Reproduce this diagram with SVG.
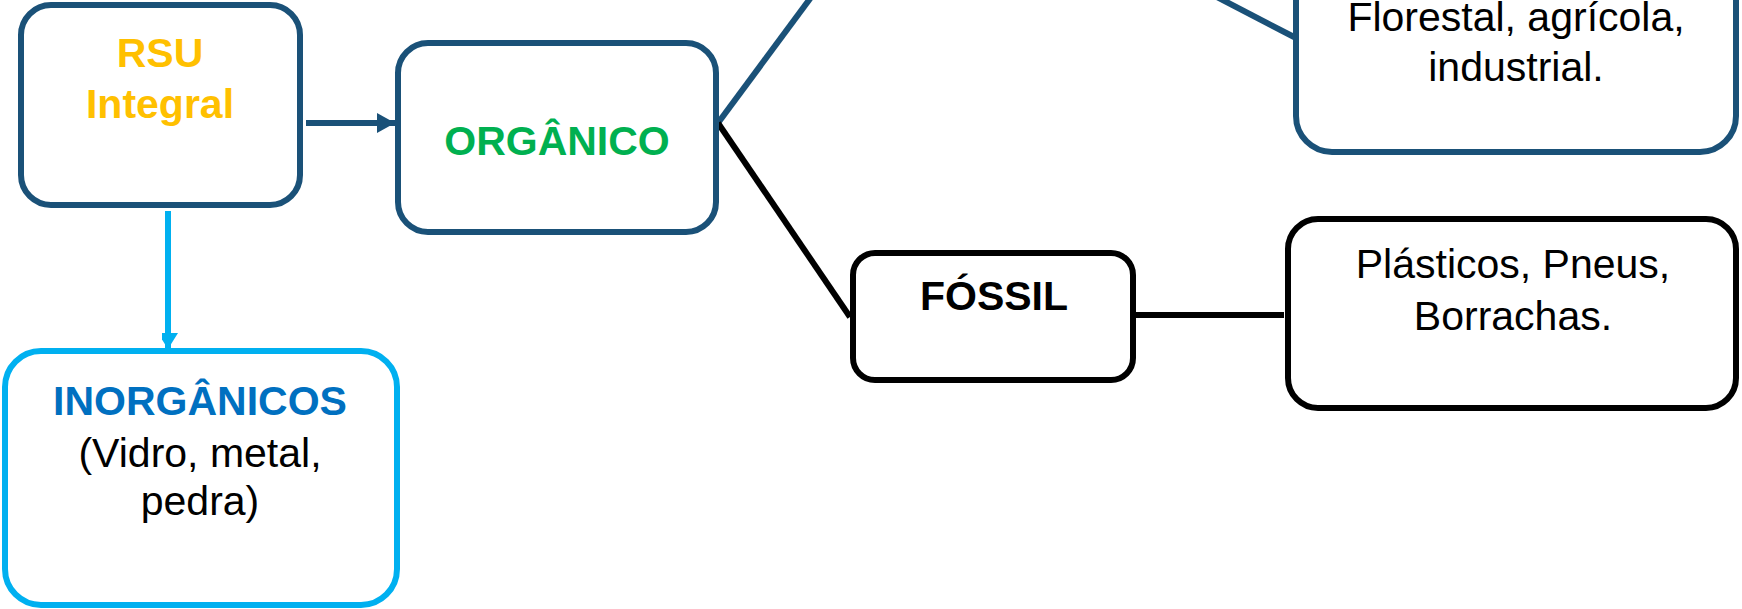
<svg xmlns="http://www.w3.org/2000/svg" width="1742" height="609" viewBox="0 0 1742 609">
  <style>
    .box { fill: #ffffff; stroke-width: 6; }
    .navy { stroke: #1A5178; }
    .sky { stroke: #00B0F0; }
    .ink { stroke: #000000; }
    .t { font-family: "Liberation Sans", Arial, sans-serif; font-size: 41px; text-anchor: middle; }
    .b { font-weight: bold; }
    .link { fill: none; stroke-width: 6; }
  </style>
  <defs>
    <marker id="headNavy" viewBox="0 0 18 20" refX="18" refY="10" markerWidth="18" markerHeight="20" markerUnits="userSpaceOnUse" orient="auto">
      <path d="M0,0 L18,10 L0,20 Z" fill="#1A5178"/>
    </marker>
    <marker id="headSky" viewBox="0 0 20 16" refX="16" refY="10" markerWidth="20" markerHeight="16" markerUnits="userSpaceOnUse" orient="auto">
      <path d="M0,0 L16,10 L0,20 Z" fill="#00B0F0"/>
    </marker>
  </defs>

  <!-- connectors -->
  <g id="connectors">
    <line class="link navy" x1="306" y1="123" x2="395" y2="123" marker-end="url(#headNavy)"/>
    <line class="link sky" x1="168" y1="211" x2="168" y2="349" marker-end="url(#headSky)"/>
    <line class="link navy" x1="718" y1="123" x2="812" y2="-4"/>
    <line class="link navy" x1="1215" y1="-4" x2="1296" y2="38"/>
    <line class="link ink" x1="718" y1="123" x2="850" y2="317"/>
    <line class="link ink" x1="1136" y1="315" x2="1284" y2="315"/>
  </g>

  <!-- nodes -->
  <g id="rsu">
    <rect class="box navy" x="21" y="5" width="279" height="200" rx="30"/>
    <text class="t b" x="160" y="67" fill="#FFC000">RSU</text>
    <text class="t b" x="160" y="118" fill="#FFC000">Integral</text>
  </g>

  <g id="organico">
    <rect class="box navy" x="398" y="43" width="318" height="189" rx="30"/>
    <text class="t b" x="557" y="155" fill="#00B050">ORGÂNICO</text>
  </g>

  <g id="inorganicos">
    <rect class="box sky" x="5" y="351" width="392" height="254" rx="36"/>
    <text class="t b" x="200" y="415" fill="#0070C0">INORGÂNICOS</text>
    <text class="t" x="200" y="467" fill="#000000">(Vidro, metal,</text>
    <text class="t" x="200" y="515" fill="#000000">pedra)</text>
  </g>

  <g id="biomassa">
    <rect class="box navy" x="1296" y="-60" width="440" height="212" rx="36"/>
    <text class="t" x="1516" y="31" fill="#000000">Florestal, agrícola,</text>
    <text class="t" x="1516" y="81" fill="#000000">industrial.</text>
  </g>

  <g id="fossil">
    <rect class="box ink" x="853" y="253" width="280" height="127" rx="22"/>
    <text class="t b" x="994" y="310" fill="#000000">FÓSSIL</text>
  </g>

  <g id="derivados">
    <rect class="box ink" x="1288" y="219" width="448" height="189" rx="30"/>
    <text class="t" x="1513" y="278" fill="#000000">Plásticos, Pneus,</text>
    <text class="t" x="1513" y="330" fill="#000000">Borrachas.</text>
  </g>
</svg>
